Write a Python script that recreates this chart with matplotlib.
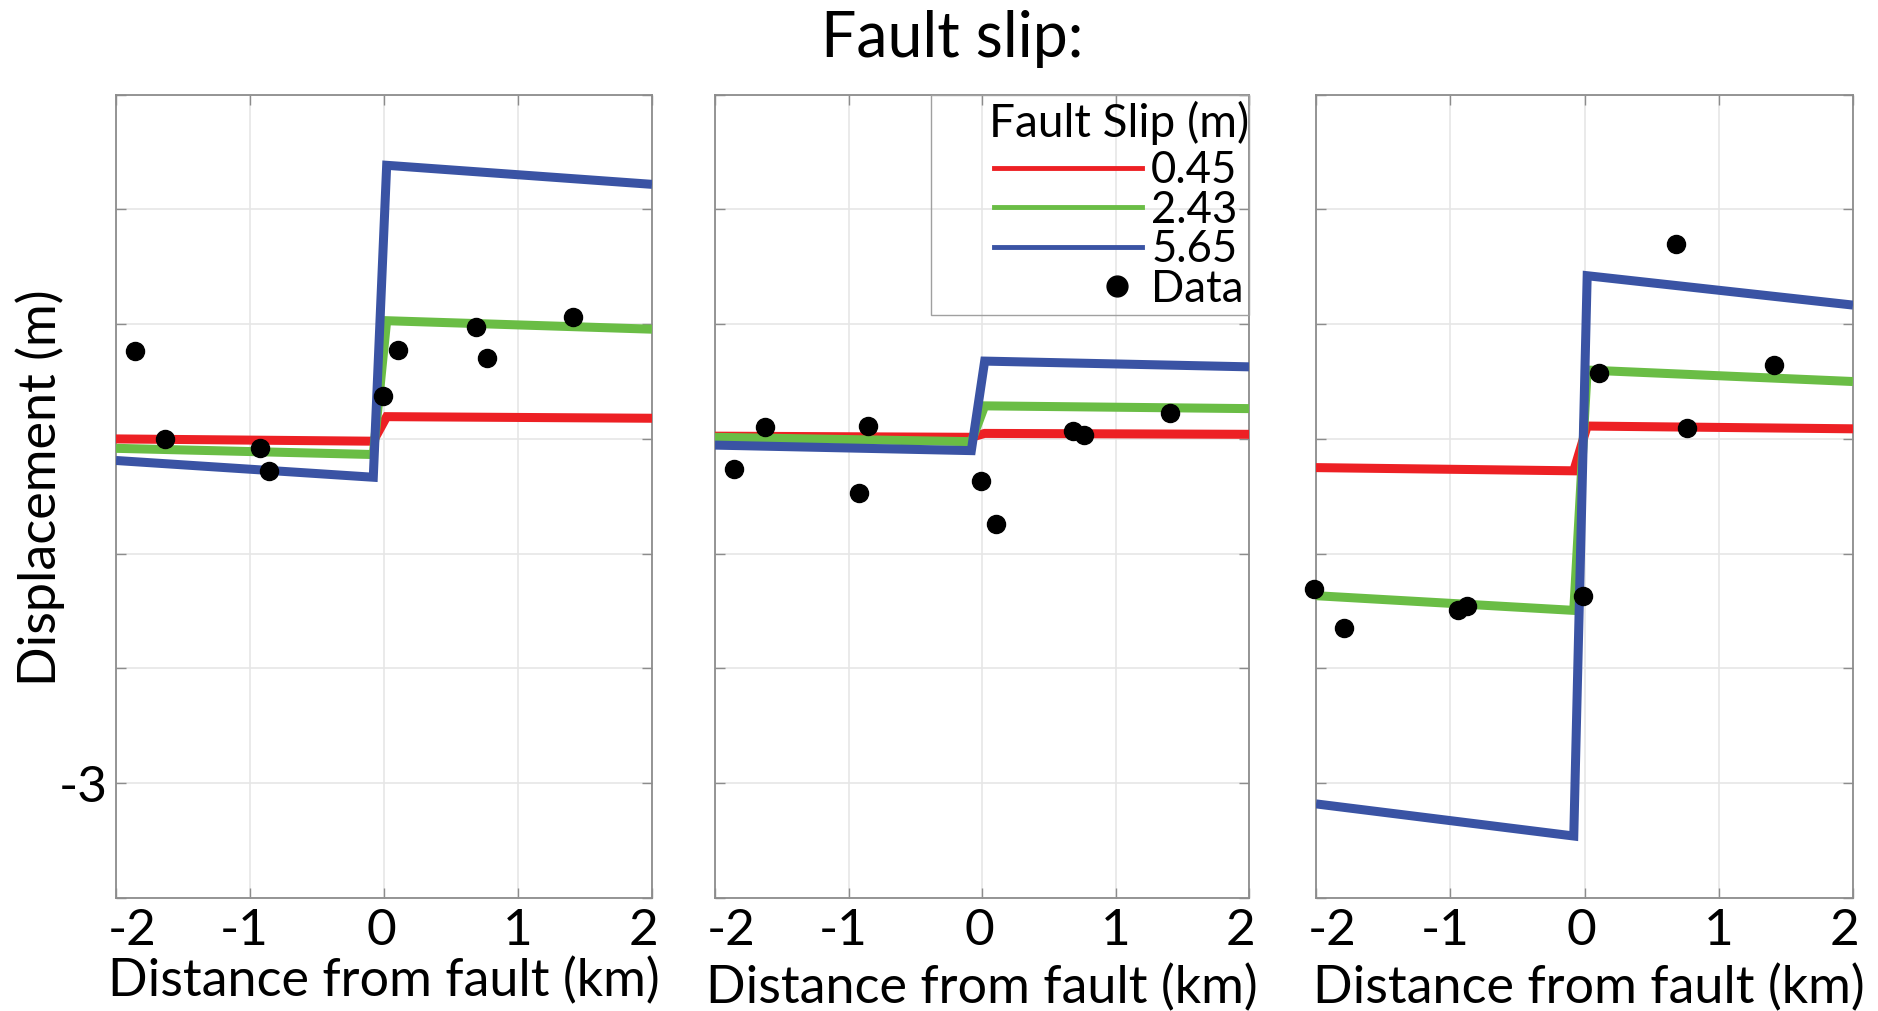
import matplotlib
matplotlib.use('Agg')
import matplotlib.pyplot as plt
from matplotlib.lines import Line2D
from matplotlib.patches import Rectangle
from matplotlib.legend_handler import HandlerLine2DCompound

plt.rcParams['font.family'] = ['Lato', 'DejaVu Sans']

# ---------------- data ----------------
slip_labels = ['0.45', '2.43', '5.65']
slip_colors = ['#ED2024', '#6ABD45', '#3A53A4']
model_x = [-2.0, -0.08, 0.02, 2.0]

# panel 1
p1_red = [-1.500, -1.510, -1.403, -1.410]
p1_green = [-1.541, -1.568, -0.985, -1.022]
p1_blue = [-1.594, -1.667, -0.308, -0.391]
p1_data_x = [-1.861, -1.631, -0.922, -0.856, -0.008, 0.104, 0.683, 0.765, 1.408]
p1_data_y = [-1.116, -1.500, -1.538, -1.638, -1.312, -1.114, -1.011, -1.149, -0.967]

# panel 2
p2_red = [-1.488, -1.493, -1.476, -1.480]
p2_green = [-1.493, -1.512, -1.356, -1.368]
p2_blue = [-1.527, -1.551, -1.161, -1.186]
p2_data_x = [-1.861, -1.629, -0.920, -0.856, -0.005, 0.104, 0.685, 0.765, 1.411]
p2_data_y = [-1.633, -1.448, -1.735, -1.443, -1.682, -1.871, -1.464, -1.485, -1.386]

# panel 3
p3_red = [-1.625, -1.639, -1.444, -1.456]
p3_green = [-2.183, -2.247, -1.200, -1.250]
p3_blue = [-3.090, -3.230, -0.789, -0.917]
p3_data_x = [-2.017, -1.788, -0.945, -0.878, -0.008, 0.106, 0.684, 0.764, 1.411]
p3_data_y = [-2.155, -2.322, -2.247, -2.230, -2.183, -1.213, -0.652, -1.453, -1.180]

x_ticks = [-2, -1, 0, 1, 2]
x_tick_labels = ['-2', '-1', '0', '1', '2']
y_ticks = [-3.5, -3.0, -2.5, -2.0, -1.5, -1.0, -0.5, 0.0]
y_tick_labels = ['', '-3', '', '', '', '', '', '']

panels = [
    (p1_red, p1_green, p1_blue, p1_data_x, p1_data_y),
    (p2_red, p2_green, p2_blue, p2_data_x, p2_data_y),
    (p3_red, p3_green, p3_blue, p3_data_x, p3_data_y),
]

# ---------------- layout ----------------
W, H = 1878, 1011
fig = plt.figure(figsize=(W / 100, H / 100), dpi=100)
ax_px = [(116, 652), (715, 1249), (1316, 1853)]
top_px, bot_px = 94.6, 898

TICK_FS = 37
LABEL_FS = 37.5
LEG_FS = 31.5
# small horizontal nudges (in km) of the x tick label positions, as in the original
xtick_label_nudge = [0.12, -0.04, -0.02, 0.0, -0.065]
xlabel_pad = [2, 7, 7]
xlabel_x = [0.5, 0.5, 0.509]

axes = []
for i, ((l, r), pdata) in enumerate(zip(ax_px, panels)):
    ax = fig.add_axes([l / W, 1 - bot_px / H, (r - l) / W, (bot_px - top_px) / H])
    axes.append(ax)
    red, green, blue, dx, dy = pdata
    for yv, c in zip([red, green, blue], slip_colors):
        ax.plot(model_x, yv, color=c, lw=6.5, solid_joinstyle='miter',
                solid_capstyle='butt', zorder=3)
    ax.plot(dx, dy, 'o', color='black', ms=13, zorder=4, clip_on=False)

    ax.set_xlim(-2, 2)
    ax.set_ylim(-3.5, 0)
    # major ticks: marks + grid; minor ticks: the (slightly nudged) labels
    ax.xaxis.remove_overlapping_locs = False
    ax.set_xticks(x_ticks)
    ax.set_xticklabels([''] * len(x_ticks))
    ax.set_xticks([t + n for t, n in zip(x_ticks, xtick_label_nudge)],
                  x_tick_labels, minor=True, fontsize=TICK_FS)
    ax.set_yticks(y_ticks)
    if i == 0:
        ax.set_yticklabels(y_tick_labels, fontsize=TICK_FS)
    else:
        ax.set_yticklabels([''] * len(y_ticks))
    ax.grid(True, which='major', color='#e6e6e6', lw=1.2, zorder=0)
    ax.set_axisbelow(True)
    ax.tick_params(which='major', direction='in', length=7, width=1,
                   color='#8c8c8c', top=True, right=True, pad=7.5)
    ax.tick_params(axis='x', which='minor', length=0, pad=7.5, top=False)
    ax.tick_params(axis='y', pad=6)
    for s in ax.spines.values():
        s.set_color('#8c8c8c')
        s.set_linewidth(1.3)
    ax.set_xlabel('Distance from fault (km)', fontsize=LABEL_FS,
                  labelpad=xlabel_pad[i])
    ax.xaxis.label.set_x(xlabel_x[i])

# legend in middle panel
class RightMarkerHandler(HandlerLine2DCompound):
    def get_xdata(self, legend, xdescent, ydescent, width, height, fontsize):
        xdata, _ = super().get_xdata(legend, xdescent, ydescent, width, height, fontsize)
        return xdata, [-xdescent + 0.83 * width]

handles = [Line2D([], [], color=c, lw=3.5) for c in slip_colors]
data_handle = Line2D([], [], ls='none', marker='o', color='black', ms=15)
handles.append(data_handle)
leg = axes[1].legend(handles, slip_labels + ['Data'], title='Fault Slip (m)',
                     loc='upper right', bbox_to_anchor=(1.012, 1.0),
                     frameon=False, fontsize=LEG_FS, title_fontsize=33,
                     handlelength=3.4, handletextpad=0.2, labelspacing=-0.035,
                     borderpad=0.1, borderaxespad=0.05,
                     handler_map={data_handle: RightMarkerHandler(numpoints=1)})
leg._legend_box.sep = 3.6
axes[1].add_patch(Rectangle((0.4036, 0.7258), 1 - 0.4036, 1 - 0.7258,
                            transform=axes[1].transAxes, fill=False,
                            edgecolor='#a0a0a0', lw=1.0, zorder=5, clip_on=False))

fig.text(40 / W, 1 - 488 / H, 'Displacement (m)', rotation=90,
         ha='center', va='center', fontsize=LABEL_FS)
fig.text(952 / W, 1 - 39 / H, 'Fault slip:', ha='center', va='center', fontsize=45)

fig.savefig('out.png', dpi=100)
